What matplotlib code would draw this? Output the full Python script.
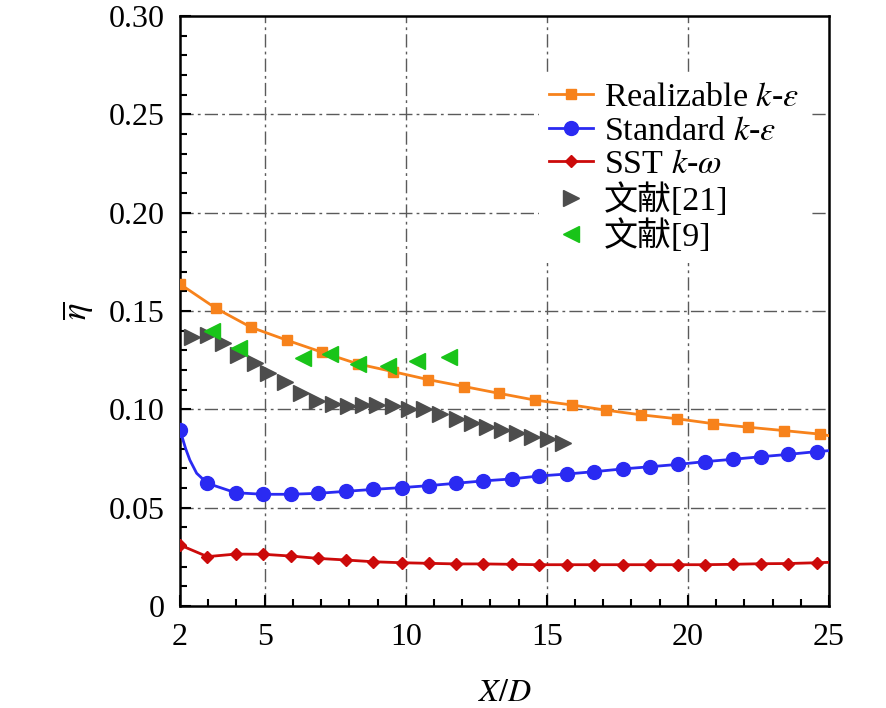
import matplotlib
matplotlib.use("Agg")
import matplotlib.pyplot as plt
from matplotlib.ticker import MultipleLocator, FixedLocator
from matplotlib.lines import Line2D

plt.rcParams['font.family'] = ['Liberation Serif', 'Noto Sans CJK SC']
plt.rcParams['mathtext.fontset'] = 'stix'

# Realizable k-epsilon
rke_x = [2.0, 3.27, 4.52, 5.78, 7.04, 8.30, 9.54, 10.80, 12.07, 13.32, 14.58,
         15.90, 17.08, 18.34, 19.62, 20.90, 22.14, 23.40, 24.68]
rke_y = [0.1637, 0.1514, 0.1417, 0.1352, 0.1290, 0.1231, 0.1192, 0.1151, 0.1116,
         0.1081, 0.1047, 0.1022, 0.0996, 0.0972, 0.0952, 0.0927, 0.0909, 0.0892, 0.0874]
rke_end = (25.0, 0.0866)

# Standard k-epsilon
ske_x = [2.0, 2.97, 3.97, 4.95, 5.93, 6.90, 7.87, 8.85, 9.86, 10.82, 11.77, 12.75,
         13.75, 14.72, 15.70, 16.68, 17.69, 18.65, 19.64, 20.60, 21.59, 22.58, 23.56, 24.56]
ske_y = [0.0895, 0.0624, 0.0576, 0.0568, 0.0568, 0.0573, 0.0583, 0.0593, 0.0602,
         0.0612, 0.0624, 0.0636, 0.0646, 0.0661, 0.0671, 0.0683, 0.0697, 0.0708,
         0.0720, 0.0734, 0.0746, 0.0759, 0.0771, 0.0785]
ske_curve_x = [2.0, 2.2, 2.35, 2.59, 2.97]
ske_curve_y = [0.0895, 0.0800, 0.0742, 0.0675, 0.0624]
ske_end = (25.0, 0.0790)

# SST k-omega
sst_x = ske_x
sst_y = [0.0310, 0.0251, 0.0264, 0.0263, 0.0254, 0.0242, 0.0234, 0.0225, 0.0220,
         0.0217, 0.0214, 0.0214, 0.0212, 0.0210, 0.0210, 0.0210, 0.0210, 0.0210,
         0.0210, 0.0210, 0.0212, 0.0215, 0.0216, 0.0220]
sst_end = (25.0, 0.0222)

# Reference [21]
ref21_x = [2.41, 3.00, 3.53, 4.07, 4.66, 5.13, 5.72, 6.28, 6.84, 7.41, 7.96, 8.50,
           8.98, 9.56, 10.13, 10.65, 11.21, 11.81, 12.34, 12.87, 13.40, 13.93,
           14.48, 15.05, 15.58]
ref21_y = [0.1369, 0.1378, 0.1336, 0.1276, 0.1237, 0.1183, 0.1141, 0.1085, 0.1044,
           0.1026, 0.1017, 0.1022, 0.1022, 0.1017, 0.1000, 0.1000, 0.0976, 0.0949,
           0.0929, 0.0912, 0.0895, 0.0878, 0.0861, 0.0848, 0.0830]

# Reference [9]
ref9_x = [3.15, 4.09, 6.37, 7.32, 8.32, 9.38, 10.39, 11.54]
ref9_y = [0.1398, 0.1310, 0.1259, 0.1281, 0.1230, 0.1220, 0.1247, 0.1268]

xticks = [2, 5, 10, 15, 20, 25]
yticks = [0, 0.05, 0.10, 0.15, 0.20, 0.25, 0.30]
ytick_labels = ['0', '0.05', '0.10', '0.15', '0.20', '0.25', '0.30']

c_orange = '#f7821b'
c_blue = '#2a2af2'
c_red = '#cc0a0a'
c_gray = '#4d4d4d'
c_green = '#19c419'

fig = plt.figure(figsize=(8.86, 7.08), dpi=100)
ax = fig.add_axes([180/886, 1-606/708, 649/886, 590/708])

ax.set_xlim(2, 25)
ax.set_ylim(0, 0.30)

# grid
gridls = (0, (9.5, 3, 2, 3))
for gx in xticks[1:-1]:
    ax.axvline(gx, color='#5a5a5a', lw=1.0, ls=gridls, zorder=0)
for gy in yticks[1:-1]:
    ax.axhline(gy, color='#5a5a5a', lw=1.0, ls=gridls, zorder=0)

lw = 2.0
# lines
ax.plot(rke_x + [rke_end[0]], rke_y + [rke_end[1]], color=c_orange, lw=lw, zorder=3)
ax.plot(ske_curve_x + ske_x[2:] + [ske_end[0]], ske_curve_y + ske_y[2:] + [ske_end[1]],
        color=c_blue, lw=lw, zorder=3)
ax.plot(sst_x + [sst_end[0]], sst_y + [sst_end[1]], color=c_red, lw=lw, zorder=3)
# markers
ax.plot(rke_x, rke_y, ls='none', marker='s', ms=7, color=c_orange, zorder=4)
ax.plot(ske_x, ske_y, ls='none', marker='o', ms=10, color=c_blue, zorder=4)
ax.plot(sst_x, sst_y, ls='none', marker='D', ms=6, color=c_red, zorder=4)
ax.plot(ref21_x, ref21_y, ls='none', marker='>', ms=11, color=c_gray, zorder=5)
ax.plot(ref9_x, ref9_y, ls='none', marker='<', ms=11, color=c_green, zorder=5)

# ticks
ax.xaxis.set_major_locator(FixedLocator(xticks))
ax.xaxis.set_minor_locator(MultipleLocator(1))
ax.set_yticks(yticks)
ax.set_yticklabels(ytick_labels)
ax.yaxis.set_minor_locator(MultipleLocator(0.01))
ax.tick_params(which='both', direction='in', top=False, right=False, labelsize=23,
               width=1.5)
ax.tick_params(which='major', length=8)
ax.tick_params(axis='x', which='major', pad=12)
ax.tick_params(axis='y', which='major', pad=11)
ax.tick_params(which='minor', length=5)
for s in ax.spines.values():
    s.set_linewidth(1.8)

ax.set_xlabel(r'$X/D$', fontsize=23, labelpad=20)
ax.set_ylabel(r'$\overline{\eta}$', fontsize=25, labelpad=10)

handles = [
    Line2D([], [], color=c_orange, lw=lw, marker='s', ms=7),
    Line2D([], [], color=c_blue, lw=lw, marker='o', ms=10),
    Line2D([], [], color=c_red, lw=lw, marker='D', ms=6),
    Line2D([], [], ls='none', color=c_gray, marker='>', ms=11),
    Line2D([], [], ls='none', color=c_green, marker='<', ms=11),
]
labels = [r'Realizable $k$-$\varepsilon$', r'Standard $k$-$\varepsilon$',
          r'SST $k$-$\omega$', '文献[21]', '文献[9]']
leg = ax.legend(handles, labels, loc='upper left', bbox_to_anchor=(0.553, 0.905),
                borderaxespad=0, frameon=True, fancybox=False, edgecolor='none',
                facecolor='white', framealpha=1, fontsize=24.5, labelspacing=0.08,
                handlelength=1.3, handletextpad=0.3, borderpad=0.3)
leg.set_zorder(10)

fig.savefig('out.png', dpi=100)
